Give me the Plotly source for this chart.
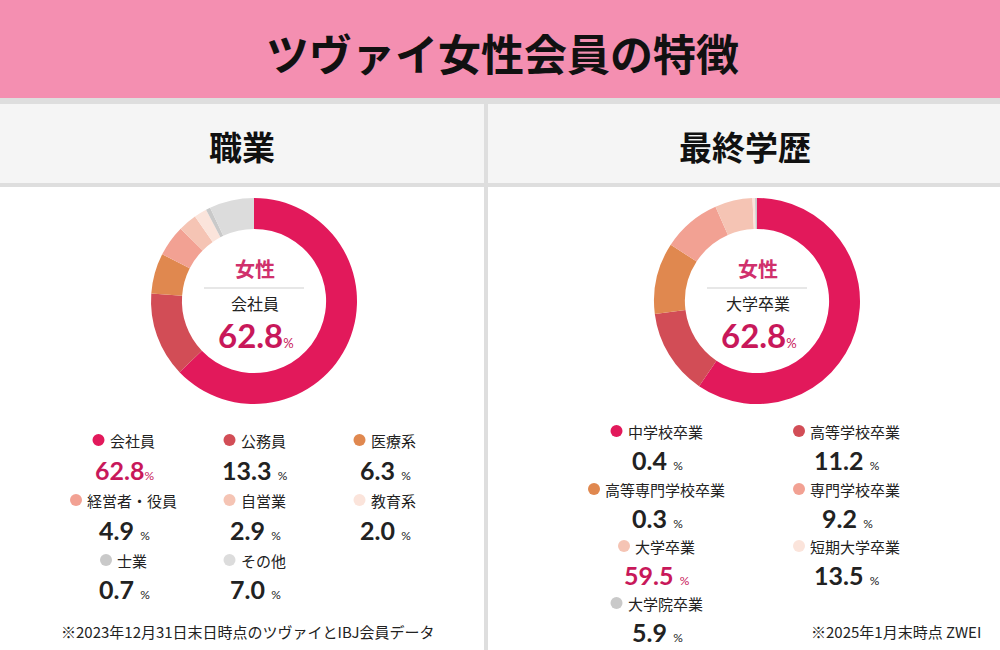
import plotly.graph_objects as go

# ---------------- data ----------------
title_text = "ツヴァイ女性会員の特徴"
panel_titles = ["職業", "最終学歴"]

job_labels = ["会社員", "公務員", "医療系", "経営者・役員", "自営業", "教育系", "士業", "その他"]
job_values = [62.8, 13.3, 6.3, 4.9, 2.9, 2.0, 0.7, 7.0]
job_highlight = "会社員"

edu_labels = ["中学校卒業", "高等学校卒業", "高等専門学校卒業", "専門学校卒業", "大学卒業", "短期大学卒業", "大学院卒業"]
edu_values = [0.4, 11.2, 0.3, 9.2, 59.5, 13.5, 5.9]
edu_highlight = "大学卒業"

center_group = "女性"
job_center_label = "会社員"
job_center_value = 62.8
edu_center_label = "大学卒業"
edu_center_value = 62.8

job_note = "※2023年12月31日末日時点のツヴァイとIBJ会員データ"
edu_note = "※2025年1月末時点 ZWEI"

# ---------------- style ----------------
W, H = 1000, 650
job_colors = ["#E2195B", "#D24D56", "#E0884F", "#F2A193", "#F5C4B4", "#FBE4DB", "#C9C9C9", "#DCDCDC"]
edu_colors = ["#E2195B", "#D24D56", "#E0884F", "#F2A193", "#F5C4B4", "#FBE4DB", "#C9C9C9"]
JP = "Noto Sans CJK JP"
NUM = "Lato"
DARK = "#222222"
HL = "#C8185A"


def px(x):
    return x / W


def py(y):
    return 1 - y / H


fig = go.Figure()
shapes = []
ann = []

# background blocks
shapes.append(dict(type="rect", xref="paper", yref="paper", x0=0, x1=1, y0=py(98), y1=1,
                   fillcolor="#F48FB1", line_width=0, layer="below"))
shapes.append(dict(type="rect", xref="paper", yref="paper", x0=0, x1=1, y0=py(104), y1=py(98),
                   fillcolor="#DEDEDE", line_width=0, layer="below"))
shapes.append(dict(type="rect", xref="paper", yref="paper", x0=0, x1=1, y0=py(183), y1=py(104),
                   fillcolor="#F5F5F5", line_width=0, layer="below"))
shapes.append(dict(type="rect", xref="paper", yref="paper", x0=0, x1=1, y0=py(187), y1=py(183),
                   fillcolor="#DEDEDE", line_width=0, layer="below"))
shapes.append(dict(type="rect", xref="paper", yref="paper", x0=px(484), x1=px(488), y0=0, y1=py(100),
                   fillcolor="#DEDEDE", line_width=0, layer="below"))

ann.append(dict(text="<b>" + title_text + "</b>", x=px(502), y=py(52), xref="paper", yref="paper",
                showarrow=False, font=dict(family=JP, size=43, color="#111111"),
                xanchor="center", yanchor="middle"))
for t, cx in zip(panel_titles, [242, 745]):
    ann.append(dict(text="<b>" + t + "</b>", x=px(cx), y=py(146), xref="paper", yref="paper",
                    showarrow=False, font=dict(family=JP, size=33, color="#111111"),
                    xanchor="center", yanchor="middle"))

# ---------------- donuts ----------------
R = 103


def donut(cx, cy, values, colors, label, value):
    fig.add_trace(go.Pie(values=values, marker=dict(colors=colors, line=dict(width=0)),
                         hole=0.70, sort=False, direction="clockwise", rotation=0,
                         textinfo="none", hoverinfo="skip", showlegend=False,
                         domain=dict(x=[px(cx - R), px(cx + R)], y=[py(cy + R), py(cy - R)])))
    ann.append(dict(text="<b>" + center_group + "</b>", x=px(cx + 1), y=py(cy - 33), xref="paper", yref="paper",
                    showarrow=False, font=dict(family=JP, size=20, color="#D0306C"),
                    xanchor="center", yanchor="middle"))
    shapes.append(dict(type="line", xref="paper", yref="paper", x0=px(cx - 50), x1=px(cx + 50),
                       y0=py(cy - 13), y1=py(cy - 13), line=dict(color="#CFCFCF", width=1)))
    ann.append(dict(text=label, x=px(cx + 1), y=py(cy + 2), xref="paper", yref="paper",
                    showarrow=False, font=dict(family=JP, size=16, color=DARK),
                    xanchor="center", yanchor="middle"))
    ann.append(dict(text="<b>%.1f</b><span style='font-size:13px'>%%</span>" % value,
                    x=px(cx + 2), y=py(cy + 34), xref="paper", yref="paper",
                    showarrow=False, font=dict(family=NUM, size=33, color=HL),
                    xanchor="center", yanchor="middle"))


donut(254, 301, job_values, job_colors, job_center_label, job_center_value)

# right donut: slices drawn from largest to smallest, palette by rank
order = sorted(range(len(edu_values)), key=lambda i: -edu_values[i])
edu_sorted = [edu_values[i] for i in order]
donut(757, 301, edu_sorted, edu_colors, edu_center_label, edu_center_value)

# ---------------- legends ----------------
LBL = 15


def legend(labels, values, colors, highlight, cols, label_rows, value_rows, ncol, nospace_first=False):
    for i, (lab, val, col) in enumerate(zip(labels, values, colors)):
        r, c = divmod(i, ncol)
        cx = cols[c]
        gw = 12 + 4 + LBL * len(lab)
        left = cx - gw / 2
        ly = label_rows[r]
        shapes.append(dict(type="circle", xref="paper", yref="paper",
                           x0=px(left), x1=px(left + 12), y0=py(ly + 6), y1=py(ly - 6),
                           fillcolor=col, line_width=0))
        ann.append(dict(text=lab, x=px(left + 15), y=py(ly), xref="paper", yref="paper",
                        showarrow=False, font=dict(family=JP, size=LBL, color=DARK),
                        xanchor="left", yanchor="middle"))
        hl = lab == highlight
        sep = "" if (nospace_first and hl) else " "
        ann.append(dict(text="<b>%.1f</b>%s<span style='font-size:12px'>%%</span>" % (val, sep),
                        x=px(cx + 1), y=py(value_rows[r]), xref="paper", yref="paper",
                        showarrow=False, font=dict(family=NUM, size=25, color=HL if hl else DARK),
                        xanchor="center", yanchor="middle"))


legend(job_labels, job_values, job_colors, job_highlight,
       [123, 254, 384], [440, 500, 560], [470, 530, 589], 3, nospace_first=True)
legend(edu_labels, edu_values, edu_colors, edu_highlight,
       [656, 846], [431, 489, 546, 603], [460, 518, 575, 632], 2)

ann.append(dict(text=job_note, x=px(248), y=py(631), xref="paper", yref="paper", showarrow=False,
                font=dict(family=JP, size=15, color=DARK), xanchor="center", yanchor="middle"))
ann.append(dict(text=edu_note, x=px(983), y=py(631), xref="paper", yref="paper", showarrow=False,
                font=dict(family=JP, size=15, color=DARK), xanchor="right", yanchor="middle"))

fig.update_layout(width=W, height=H, margin=dict(l=0, r=0, t=0, b=0),
                  paper_bgcolor="white", plot_bgcolor="white",
                  shapes=shapes, annotations=ann)
fig.write_html("out.html", config={"displayModeBar": False})
